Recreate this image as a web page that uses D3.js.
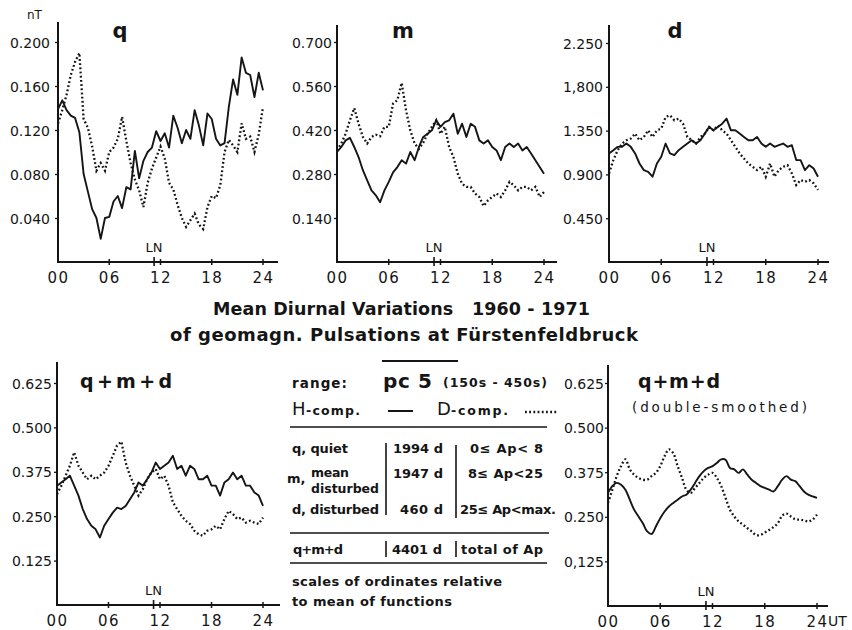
<!DOCTYPE html>
<html><head><meta charset="utf-8">
<script src="https://cdn.jsdelivr.net/npm/d3@7"></script>
<style>body{margin:0;background:#fff} svg{display:block}</style>
</head><body><svg id="c" width="852" height="630"></svg>
<script>
// ---------- DATA ----------
const hours = d3.range(0, 24.01, 0.5); // 00 .. 24 UT, half-hour steps
const xTickValues = [0, 6, 12, 18, 24];
const xTickLabels = ["00", "06", "12", "18", "24"];
const localNoon = 11.25;

const qH = [0.139,0.147,0.138,0.133,0.131,0.118,0.080,0.064,0.048,0.040,0.021,0.040,0.041,0.055,0.060,0.049,0.068,0.066,0.101,0.076,0.092,0.100,0.104,0.119,0.110,0.117,0.104,0.133,0.122,0.108,0.120,0.112,0.138,0.124,0.106,0.135,0.130,0.112,0.106,0.108,0.141,0.166,0.152,0.186,0.172,0.170,0.150,0.172,0.156];
const qD = [0.126,0.138,0.152,0.170,0.182,0.190,0.130,0.122,0.105,0.083,0.090,0.083,0.100,0.104,0.112,0.132,0.110,0.090,0.075,0.065,0.050,0.072,0.085,0.095,0.105,0.094,0.072,0.066,0.052,0.040,0.032,0.038,0.044,0.034,0.030,0.050,0.060,0.058,0.070,0.100,0.111,0.106,0.100,0.126,0.112,0.114,0.100,0.116,0.141];
const qTicks = [0.04, 0.08, 0.12, 0.16, 0.20];
const qTickLabels = ["0.040", "0.080", "0.120", "0.160", "0.200"];

const mH = [0.350,0.366,0.387,0.395,0.366,0.334,0.292,0.260,0.228,0.212,0.190,0.228,0.255,0.285,0.302,0.324,0.313,0.350,0.324,0.366,0.398,0.408,0.419,0.451,0.430,0.445,0.451,0.472,0.408,0.440,0.398,0.440,0.430,0.387,0.377,0.387,0.366,0.355,0.324,0.366,0.377,0.366,0.377,0.355,0.366,0.345,0.324,0.302,0.281];
const mD = [0.355,0.377,0.408,0.451,0.490,0.440,0.398,0.377,0.398,0.405,0.400,0.430,0.430,0.504,0.515,0.570,0.483,0.419,0.377,0.360,0.380,0.408,0.430,0.451,0.408,0.430,0.366,0.334,0.281,0.249,0.239,0.239,0.218,0.207,0.178,0.196,0.207,0.218,0.207,0.228,0.255,0.244,0.228,0.239,0.239,0.228,0.239,0.207,0.223];
const mTicks = [0.14, 0.28, 0.42, 0.56, 0.70];
const mTickLabels = ["0.140", "0.280", "0.420", "0.560", "0.700"];

const dH = [1.115,1.149,1.183,1.183,1.217,1.183,1.115,1.012,0.944,0.927,0.876,1.012,1.081,1.217,1.115,1.098,1.149,1.183,1.217,1.251,1.217,1.251,1.319,1.387,1.353,1.387,1.421,1.473,1.353,1.353,1.319,1.285,1.251,1.251,1.285,1.217,1.183,1.217,1.183,1.200,1.217,1.183,1.200,1.047,1.047,0.944,0.995,0.961,0.876];
const dD = [0.910,1.047,1.149,1.217,1.251,1.268,1.319,1.251,1.285,1.353,1.285,1.353,1.370,1.490,1.507,1.456,1.473,1.421,1.285,1.251,1.217,1.285,1.319,1.387,1.353,1.404,1.353,1.319,1.251,1.183,1.115,1.064,1.012,0.978,0.944,0.978,0.876,1.012,0.876,0.944,0.978,0.995,0.910,0.791,0.842,0.825,0.842,0.808,0.740];
const dTicks = [0.45, 0.90, 1.35, 1.80, 2.25];
const dTickLabels = ["0.450", "0.900", "1.350", "1,800", "2.250"];

const sumH = [0.336,0.345,0.354,0.364,0.336,0.308,0.270,0.242,0.223,0.213,0.190,0.223,0.242,0.260,0.274,0.270,0.279,0.298,0.317,0.345,0.336,0.354,0.373,0.401,0.383,0.392,0.401,0.420,0.383,0.392,0.364,0.392,0.383,0.354,0.354,0.364,0.336,0.336,0.308,0.345,0.354,0.373,0.354,0.364,0.336,0.336,0.317,0.308,0.279];
const sumD = [0.312,0.336,0.364,0.392,0.430,0.392,0.373,0.354,0.364,0.354,0.364,0.373,0.392,0.420,0.449,0.460,0.401,0.364,0.336,0.308,0.326,0.354,0.373,0.383,0.354,0.364,0.336,0.289,0.270,0.251,0.237,0.228,0.209,0.199,0.195,0.209,0.213,0.223,0.213,0.242,0.265,0.256,0.242,0.246,0.232,0.237,0.232,0.228,0.246];
const sumTicks = [0.125, 0.25, 0.375, 0.5, 0.625];
const sumTickLabels = ["0.125", "0.250", "0.375", "0.500", "0.625"];

const smH = [0.317,0.336,0.345,0.340,0.326,0.298,0.270,0.251,0.232,0.209,0.202,0.223,0.246,0.265,0.279,0.289,0.298,0.307,0.312,0.326,0.345,0.364,0.378,0.387,0.392,0.401,0.411,0.410,0.387,0.383,0.373,0.383,0.368,0.354,0.345,0.336,0.331,0.326,0.321,0.336,0.354,0.364,0.354,0.350,0.336,0.321,0.312,0.307,0.303];
const smD = [0.289,0.326,0.364,0.392,0.411,0.383,0.368,0.359,0.354,0.354,0.364,0.373,0.392,0.420,0.439,0.428,0.392,0.359,0.326,0.317,0.331,0.345,0.359,0.368,0.373,0.359,0.336,0.303,0.270,0.251,0.237,0.228,0.218,0.209,0.199,0.199,0.206,0.213,0.221,0.232,0.253,0.259,0.251,0.243,0.242,0.240,0.237,0.242,0.256];
const smTickLabels = ["0,125", "0.250", "0.375", "0.500", "0.625"];

// ---------- DRAW ----------
const svg = d3.select("#c");
const INK = "#151515";
const numFont = "'DejaVu Sans', sans-serif";
const txtFont = "'DejaVu Sans', sans-serif";
const DOTS = "1.8,2.4";

function panel(c) {
  const x = d3.scaleLinear().domain([0, 24]).range([c.x0, c.x24]);
  const y = d3.scaleLinear().domain([0, c.yTicks[c.yTicks.length - 1]]).range([c.yb, c.yt]);
  const g = svg.append("g");
  g.append("line").attr("x1", c.x0).attr("x2", c.x0).attr("y1", c.yb + 1).attr("y2", c.top)
    .attr("stroke", INK).attr("stroke-width", 2);
  g.append("line").attr("x1", c.x0 - 1).attr("x2", c.right).attr("y1", c.yb).attr("y2", c.yb)
    .attr("stroke", INK).attr("stroke-width", 2);
  const ya = g.append("g").attr("transform", `translate(${c.x0},0)`)
    .call(d3.axisLeft(y).tickValues(c.yTicks).tickFormat((d, i) => c.yLabels[i]).tickSize(3).tickPadding(c.pad || 3));
  ya.select(".domain").remove();
  ya.selectAll("line").attr("stroke", INK).attr("stroke-width", 1.3);
  ya.selectAll("text").attr("font-family", numFont).attr("font-size", 14).attr("fill", INK)
    .attr("dy", "0.36em");
  const xa = g.append("g").attr("transform", `translate(0,${c.yb})`)
    .call(d3.axisBottom(x).tickValues(xTickValues).tickFormat((d, i) => xTickLabels[i]).tickSize(0));
  xa.select(".domain").remove();
  xa.selectAll("text").attr("font-family", numFont).attr("font-size", 15).attr("fill", INK)
    .attr("letter-spacing", 1.5).attr("y", 21).attr("dy", 0);
  xTickValues.slice(1).forEach(v => {
    g.append("line").attr("x1", x(v)).attr("x2", x(v)).attr("y1", c.yb - 3).attr("y2", c.yb + 3)
      .attr("stroke", INK).attr("stroke-width", 1.5);
  });
  g.append("line").attr("x1", x(localNoon)).attr("x2", x(localNoon)).attr("y1", c.yb - 5).attr("y2", c.yb + 4)
    .attr("stroke", INK).attr("stroke-width", 1.6);
  g.append("text").attr("x", x(localNoon)).attr("y", c.yb - 10).attr("text-anchor", "middle")
    .attr("font-family", numFont).attr("font-size", 13).attr("fill", INK).text("LN");
  const line = d3.line().x((d, i) => x(hours[i])).y(d => y(d)).curve(c.curve || d3.curveLinear);
  g.append("path").datum(c.H).attr("d", line).attr("fill", "none").attr("stroke", INK)
    .attr("stroke-width", 1.9).attr("stroke-linejoin", "round");
  g.append("path").datum(c.D).attr("d", line).attr("fill", "none").attr("stroke", INK)
    .attr("stroke-width", 2.3).attr("stroke-dasharray", DOTS);
  return {x, y, g};
}

panel({x0: 58, x24: 263, yb: 262, yt: 42, top: 22, right: 278, yTicks: qTicks, yLabels: qTickLabels, H: qH, D: qD, pad: 5});
panel({x0: 337, x24: 544, yb: 262, yt: 42, top: 25, right: 557, yTicks: mTicks, yLabels: mTickLabels, H: mH, D: mD, pad: 2});
panel({x0: 609, x24: 818, yb: 262, yt: 43, top: 25, right: 829, yTicks: dTicks, yLabels: dTickLabels, H: dH, D: dD, pad: 3});
panel({x0: 57, x24: 263, yb: 605, yt: 383, top: 362, right: 280, yTicks: sumTicks, yLabels: sumTickLabels, H: sumH, D: sumD, pad: 2});
panel({x0: 608, x24: 817, yb: 606, yt: 383, top: 365, right: 828, yTicks: sumTicks, yLabels: smTickLabels, H: smH, D: smD, pad: 1, curve: d3.curveCatmullRom});

function txt(x, y, s, o = {}) {
  const t = svg.append("text").attr("x", x).attr("y", y).attr("fill", INK)
    .attr("font-family", o.font || txtFont).attr("font-size", o.size || 13)
    .attr("font-weight", o.weight || "bold").attr("text-anchor", o.anchor || "start")
    .style("white-space", "pre").text(s);
  if (o.len) t.attr("textLength", o.len).attr("lengthAdjust", "spacing");
  if (o.ls) t.attr("letter-spacing", o.ls);
  return t;
}
function hl(x1, x2, y, w = 2) {
  svg.append("line").attr("x1", x1).attr("x2", x2).attr("y1", y).attr("y2", y).attr("stroke", INK).attr("stroke-width", w);
}
function vl(x, y1, y2, w = 1.6) {
  svg.append("line").attr("x1", x).attr("x2", x).attr("y1", y1).attr("y2", y2).attr("stroke", INK).attr("stroke-width", w);
}

// unit + panel titles
txt(27, 19, "nT", {font: numFont, size: 12, weight: "normal"});
txt(120, 38, "q", {size: 21, anchor: "middle"});
txt(403, 38, "m", {size: 21, anchor: "middle"});
txt(675, 38, "d", {size: 21, anchor: "middle"});
txt(80, 388, "q + m + d", {size: 19, len: 92});
txt(638, 388, "q + m + d", {size: 19, len: 82});
txt(632, 412, "(double-smoothed)", {size: 13.5, weight: "normal", len: 175});
txt(828, 626, "UT", {font: numFont, size: 14, weight: "normal"});

// main title
txt(213, 315, "Mean Diurnal Variations\u00a0\u00a0\u00a01960 - 1971", {size: 17.5, len: 377});
txt(170, 341, "of geomagn. Pulsations at Fürstenfeldbruck", {size: 18, len: 468});

// legend / info block
hl(382, 458, 361, 2);
txt(292, 388, "range:", {size: 13.5, len: 55});
txt(383, 388, "pc 5", {size: 20, weight: "bold", len: 49});
txt(443, 387, "(150s - 450s)", {size: 12.5, len: 104});
txt(292, 415, "H", {size: 18, weight: "normal"});
txt(306, 415, "-comp.", {size: 12.5, len: 54});
hl(388, 413, 411, 2);
txt(437, 415, "D", {size: 18, weight: "normal"});
txt(451, 415, "-comp.", {size: 12.5, len: 57});
svg.append("line").attr("x1", 525).attr("x2", 557).attr("y1", 412).attr("y2", 412)
  .attr("stroke", INK).attr("stroke-width", 2.3).attr("stroke-dasharray", DOTS);
hl(290, 547, 427, 1.6);

txt(292, 453, "q, quiet", {size: 13, len: 56});
txt(393, 453, "1994 d", {size: 13, len: 50});
txt(470, 453, "0≤ Ap< 8", {size: 13, len: 73});
txt(287, 483, "m,", {size: 13});
txt(311, 477, "mean", {size: 12.5, len: 38});
txt(311, 493, "disturbed", {size: 12.5, len: 68});
txt(393, 478, "1947 d", {size: 13, len: 50});
txt(468, 478, "8≤ Ap<25", {size: 13, len: 75});
txt(292, 514, "d, disturbed", {size: 13, len: 87});
txt(400, 514, "460 d", {size: 13, len: 43});
txt(460, 514, "25≤ Ap<max.", {size: 13, len: 96});
vl(386, 443, 515);
vl(456, 445, 518);
hl(290, 549, 533, 1.6);
txt(293, 554, "q+m+d", {size: 13, len: 50});
vl(386, 541, 557);
txt(392, 554, "4401 d", {size: 13, len: 50});
vl(456, 541, 557);
txt(461, 554, "total of Ap", {size: 13, len: 82});
hl(290, 547, 563, 1.6);
txt(292, 586, "scales of ordinates relative", {size: 13, len: 210});
txt(292, 606, "to mean of functions", {size: 13, len: 160});
</script></body></html>
